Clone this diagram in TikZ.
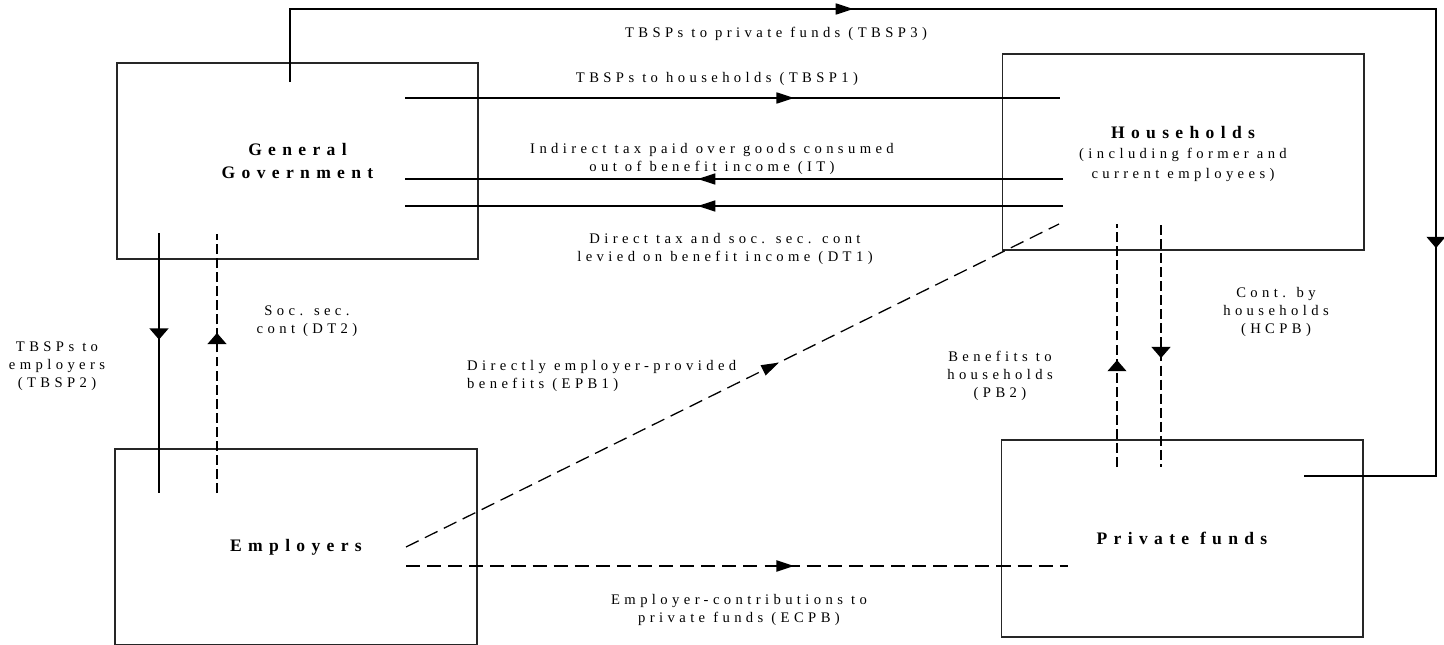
\documentclass[tikz,border=0pt]{standalone}
\usepackage{fontspec}
\setmainfont{Liberation Serif}
\newfontfamily\lblfont{Liberation Serif}[LetterSpace=30]
\newfontfamily\ttlfont{Liberation Serif}[LetterSpace=36]
\usetikzlibrary{arrows.meta,decorations.markings}

\tikzset{
  hT/.tip={Triangle[length=15pt,width=9.5pt]},
  vT/.tip={Triangle[length=9.5pt,width=16pt]},
  box/.style={draw=black!85, line width=1.7pt, minimum width=10.83cm,
    minimum height=5.9cm, inner sep=0pt, align=center,
    font=\ttlfont\bfseries\fontsize{15}{19}\selectfont},
  lbl/.style={align=center, inner sep=0pt,
    font=\lblfont\fontsize{12.5}{15.5}\selectfont},
  flow/.style={line width=1.1pt},
  dflow/.style={flow, dash pattern=on 12pt off 6pt},
  vdflow/.style={line width=1.6pt, dash pattern=on 8.5pt off 3.5pt},
  harr/.style={postaction={decorate, decoration={markings,
    mark=at position #1 with {\arrow{hT}}}}},
  varr/.style={postaction={decorate, decoration={markings,
    mark=at position #1 with {\arrow{vT}}}}},
}

\begin{document}
\begin{tikzpicture}[x=0.03cm, y=-0.03cm]
\useasboundingbox (0,0) rectangle (1444,645);

% sectors
\node[box] (gg) at (297.5,161) {General\\Government};
\node[box, font=\lblfont\fontsize{12.5}{17}\selectfont, text depth=-6pt] (hh) at (1183,152)
  {{\ttlfont\bfseries\fontsize{15}{19}\selectfont Households}\\(including former and\\current employees)};
\node[box] (em) at (296,547) {Employers};
\node[box] (pf) at (1182,538.5) {Private funds};

% ends of the flows
\coordinate (gg-up) at (290,82);
\coordinate (pf-rt) at (1304,476);
\coordinate (gg-t1) at (405,98);
\coordinate (hh-t1) at (1060,98);
\coordinate (gg-it) at (405,179);
\coordinate (hh-it) at (1063,179);
\coordinate (gg-dt) at (405,206);
\coordinate (hh-dt) at (1063,206);
\coordinate (gg-b1) at (159,233);
\coordinate (em-t1) at (159,493);
\coordinate (gg-b2) at (217,234);
\coordinate (em-t2) at (217,493);
\coordinate (em-r1) at (406,547);
\coordinate (hh-bl) at (1059,224);
\coordinate (em-r2) at (406,566);
\coordinate (pf-l) at (1068,566);
\coordinate (hh-b1) at (1117,224);
\coordinate (pf-t1) at (1117,467);
\coordinate (hh-b2) at (1161,225);
\coordinate (pf-t2) at (1161,467);

% flows
\draw[flow, postaction={decorate, decoration={markings,
    mark=at position 0.35 with {\arrow{hT}},
    mark=at position 0.802 with {\arrow{vT}}}}]
  (gg-up) |- (1436,9) |- (pf-rt);
\draw[flow, harr=0.594] (gg-t1) -- (hh-t1);
\draw[flow, harr=0.555] (hh-it) -- (gg-it);
\draw[flow, harr=0.555] (hh-dt) -- (gg-dt);
\draw[flow, line width=1.5pt, varr=0.41] (gg-b1) -- (em-t1);
\draw[vdflow, varr=0.618] (em-t2) -- (gg-b2);
\draw[dflow, harr=0.571] (em-r1) -- (hh-bl);
\draw[dflow, line width=1.5pt, harr=0.586] (em-r2) -- (pf-l);
\draw[vdflow, varr=0.44] (pf-t1) -- (hh-b1);
\draw[vdflow, varr=0.55] (hh-b2) -- (pf-t2);

% labels
\node[lbl] (l-tbsp3) at (776,34) {TBSPs to private funds (TBSP3)};
\node[lbl] (l-tbsp1) at (717,79) {TBSPs to households (TBSP1)};
\node[lbl] (l-it) at (712,159) {Indirect tax paid over goods consumed\\out of benefit income (IT)};
\node[lbl] (l-dt1) at (725,249) {Direct tax and soc. sec. cont\\levied on benefit income (DT1)};
\node[lbl] (l-dt2) at (307,321) {Soc. sec.\\cont (DT2)};
\node[lbl] (l-tbsp2) at (57,366) {TBSPs to\\employers\\(TBSP2)};
\node[lbl, anchor=west, align=left] (l-epb1) at (467,376) {Directly employer-provided\\benefits (EPB1)};
\node[lbl] (l-ecpb) at (739,610) {Employer-contributions to\\private funds (ECPB)};
\node[lbl] (l-pb2) at (1000,376) {Benefits to\\households\\(PB2)};
\node[lbl] (l-hcpb) at (1276,312) {Cont. by\\households\\(HCPB)};
\end{tikzpicture}
\end{document}
